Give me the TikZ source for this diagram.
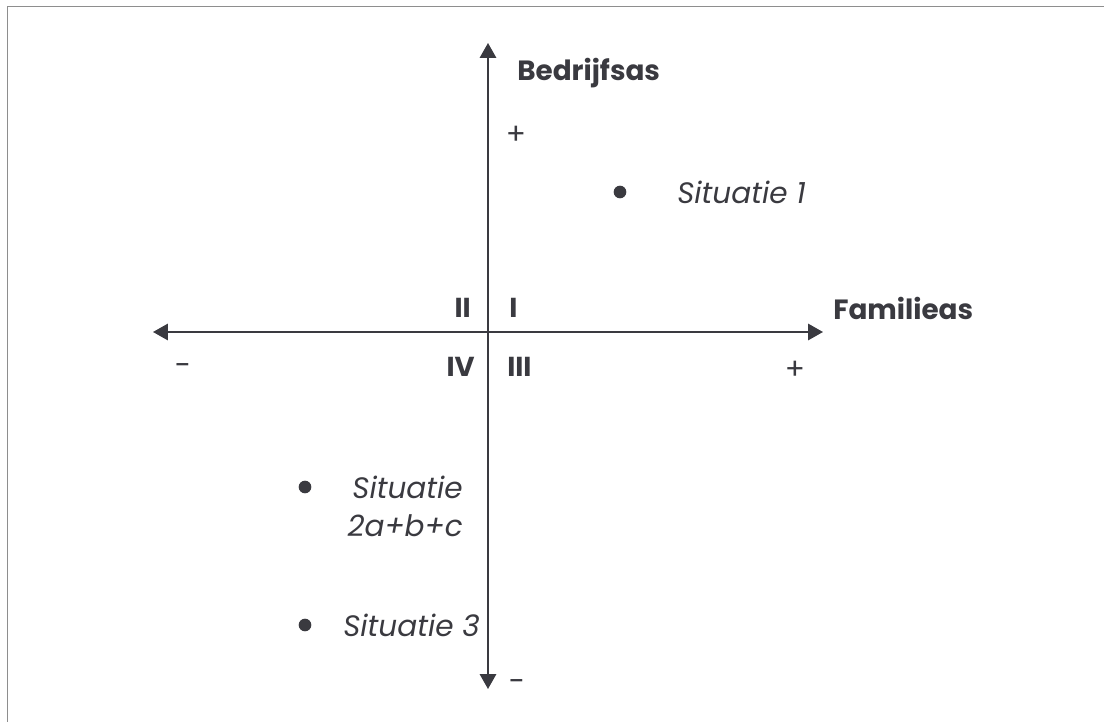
\documentclass[tikz,border=0pt]{standalone}
\usepackage{fontspec}
\setmainfont{Poppins}
\usepackage{tikz}
\usetikzlibrary{arrows.meta}
\definecolor{axisgray}{HTML}{3A3A40}
\definecolor{framegray}{HTML}{8E8E8E}

\begin{document}
\begin{tikzpicture}[x=1cm,y=1cm,
  axis/.style={draw=axisgray,line width=1.4pt,
    {Triangle[length=10.5pt,width=11.5pt]}-{Triangle[length=10.5pt,width=11.5pt]}},
  axlab/.style={font=\bfseries\fontsize{19.8}{22}\selectfont,text=axisgray,anchor=west,inner sep=0pt},
  quad/.style={font=\bfseries\fontsize{19.5}{22}\selectfont,text=axisgray,inner sep=0pt},
  sign/.style={font=\fontsize{21}{24}\selectfont,text=axisgray,inner sep=0pt},
  sit/.style={font=\itshape\fontsize{21}{27}\selectfont,text=axisgray,inner sep=0pt,align=right},
  dot/.style={circle,fill=axisgray,inner sep=0pt,minimum size=9pt}]
\useasboundingbox (-12.2,-9.75) rectangle (15.4,8.3);
% frame (top and left only)
\draw[framegray,line width=1.1pt] (-12.01,-9.75) -- (-12.01,8.1375) -- (15.4,8.1375);
% axes
\coordinate (top) at (0,7.225);
\coordinate (bot) at (0,-8.925);
\coordinate (left) at (-8.375,0);
\coordinate (right) at (8.375,0);
\draw[axis] (bot) -- (top);
\draw[axis] (left) -- (right);
\node[axlab] (bedrijf) at (0.725,6.475) {Bedrijfsas};
\node[axlab] (familie) at (8.625,0.6) {Familieas};
% signs
\node[sign] (ptop) at (0.7,4.925) {+};
\node[sign] (mbot) at (0.725,-8.85) {-};
\node[sign] (mleft) at (-7.625,-0.95) {-};
\node[sign] (pright) at (7.675,-0.95) {+};
% quadrants
\node[quad,anchor=east] (q2) at (-0.425,0.6) {II};
\node[quad,anchor=west] (q1) at (0.525,0.6) {I};
\node[quad,anchor=east] (q4) at (-0.325,-0.875) {IV};
\node[quad,anchor=west] (q3) at (0.475,-0.875) {III};
% situations
\node[dot] (d1) at (3.3,3.5) {};
\node[sit,anchor=west] (s1) at (4.725,3.5) {Situatie 1};
\node[dot] (d2) at (-4.575,-3.875) {};
\node[sit,anchor=east] (s2) at (-0.625,-4.35) {Situatie\\2a+b+c};
\node[dot] (d3) at (-4.575,-7.325) {};
\node[sit,anchor=west] (s3) at (-3.625,-7.325) {Situatie 3};
\end{tikzpicture}
\end{document}
